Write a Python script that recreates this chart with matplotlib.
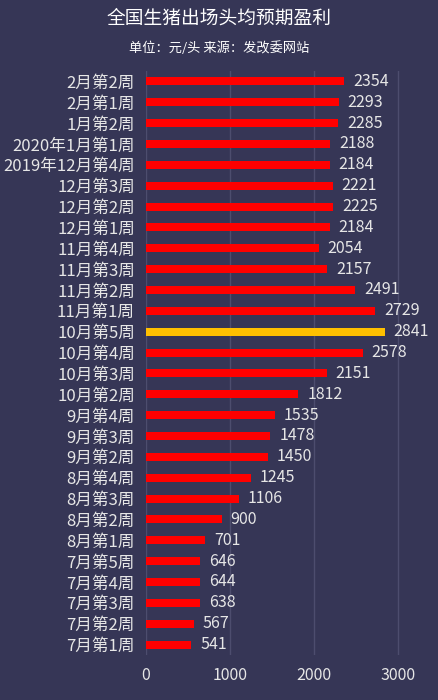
import matplotlib
matplotlib.use("Agg")
import matplotlib.pyplot as plt

plt.rcParams["font.family"] = ["Noto Sans CJK SC", "DejaVu Sans"]

BG = "#363656"
TEXT = "#e6e6e6"

# top to bottom, as in the reference
weeks = [
    "2月第2周", "2月第1周", "1月第2周", "2020年1月第1周", "2019年12月第4周",
    "12月第3周", "12月第2周", "12月第1周", "11月第4周", "11月第3周",
    "11月第2周", "11月第1周", "10月第5周", "10月第4周", "10月第3周",
    "10月第2周", "9月第4周", "9月第3周", "9月第2周", "8月第4周",
    "8月第3周", "8月第2周", "8月第1周", "7月第5周", "7月第4周",
    "7月第3周", "7月第2周", "7月第1周",
]
profit = [
    2354, 2293, 2285, 2188, 2184,
    2221, 2225, 2184, 2054, 2157,
    2491, 2729, 2841, 2578, 2151,
    1812, 1535, 1478, 1450, 1245,
    1106, 900, 701, 646, 644,
    638, 567, 541,
]
highlight = "10月第5周"
x_ticks = [0, 1000, 2000, 3000]

fig = plt.figure(figsize=(4.39, 7.0), dpi=100, facecolor=BG)
ax = fig.add_axes([146 / 439, 45 / 700, 284 / 439, 584 / 700], facecolor=BG)

pos = list(range(len(weeks)))[::-1]
colors = ["#ffc000" if w == highlight else "#ff0000" for w in weeks]
ax.barh(pos, profit, height=0.38, color=colors, zorder=3)

for p, v in zip(pos, profit):
    ax.annotate(str(v), (v, p), xytext=(6.5, 0), textcoords="offset points",
                va="center", ha="left", color=TEXT, fontsize=11.5, zorder=4)

ax.set_yticks(pos)
ax.set_yticklabels(weeks, fontsize=12, color=TEXT)
ax.set_xticks(x_ticks)
ax.set_xticklabels([str(t) for t in x_ticks], fontsize=11.5, color=TEXT)
ax.tick_params(axis="y", length=0, pad=8)
ax.tick_params(axis="x", length=0, pad=9)
ax.set_ylim(-0.5, len(weeks) - 0.5)
ax.set_xlim(0, 3380)
ax.grid(axis="x", color="#4d4d6e", linewidth=1, zorder=0)
for s in ax.spines.values():
    s.set_visible(False)

fig.text(0.5, 1 - 18 / 700, "全国生猪出场头均预期盈利", ha="center", va="center",
         color="#ffffff", fontsize=13.5)
fig.text(0.5, 1 - 48 / 700, "单位：元/头 来源：发改委网站", ha="center", va="center",
         color="#ffffff", fontsize=9.5)

fig.savefig("out.png", dpi=100, facecolor=BG)
